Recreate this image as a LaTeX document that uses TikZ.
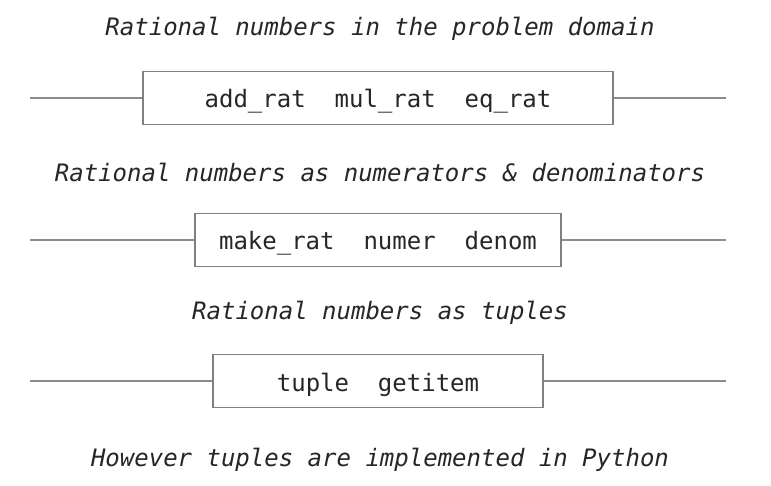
\documentclass[tikz,border=0pt]{standalone}
\usepackage{fontspec}
\setmonofont{DejaVu Sans Mono}
\usetikzlibrary{calc}

\begin{document}
\begin{tikzpicture}[x=1pt, y=-1pt,
        layer/.style={font=\fontsize{24}{28}\selectfont\ttfamily\itshape, text=black!85},
        barrier/.style={draw=black!50, line width=1.2pt, fill=white, minimum height=53pt, inner sep=0pt,
                        text height=22pt, text depth=2pt,
                        font=\fontsize{24}{28}\selectfont\ttfamily, text=black!85},
        wire/.style={draw=black!45, line width=1.5pt}]
        \useasboundingbox (0,0) rectangle (771,486);

        \node[layer] (domain) at (380, 29) {Rational numbers in the problem domain};
        \node[layer] (frac) at (380, 172) {Rational numbers as numerators \& denominators};
        \node[layer] (tup) at (380, 313) {Rational numbers as tuples};
        \node[layer] (py) at (380, 460) {However tuples are implemented in Python};

        \node[barrier, minimum width=470pt] (ops) at (378, 98) {add\_rat~~mul\_rat~~eq\_rat};
        \node[barrier, minimum width=366pt] (sel) at (378, 240) {make\_rat~~numer~~denom};
        \node[barrier, minimum width=330pt] (tpl) at (378, 381) {tuple~~getitem};

        \coordinate (opsl) at (30, 98);
        \coordinate (opsr) at (726, 98);
        \coordinate (sell) at (30, 240);
        \coordinate (selr) at (726, 240);
        \coordinate (tpll) at (30, 381);
        \coordinate (tplr) at (726, 381);

        \draw[wire] (opsl) -- (ops.west);
        \draw[wire] (ops.east) -- (opsr);
        \draw[wire] (sell) -- (sel.west);
        \draw[wire] (sel.east) -- (selr);
        \draw[wire] (tpll) -- (tpl.west);
        \draw[wire] (tpl.east) -- (tplr);
\end{tikzpicture}
\end{document}
